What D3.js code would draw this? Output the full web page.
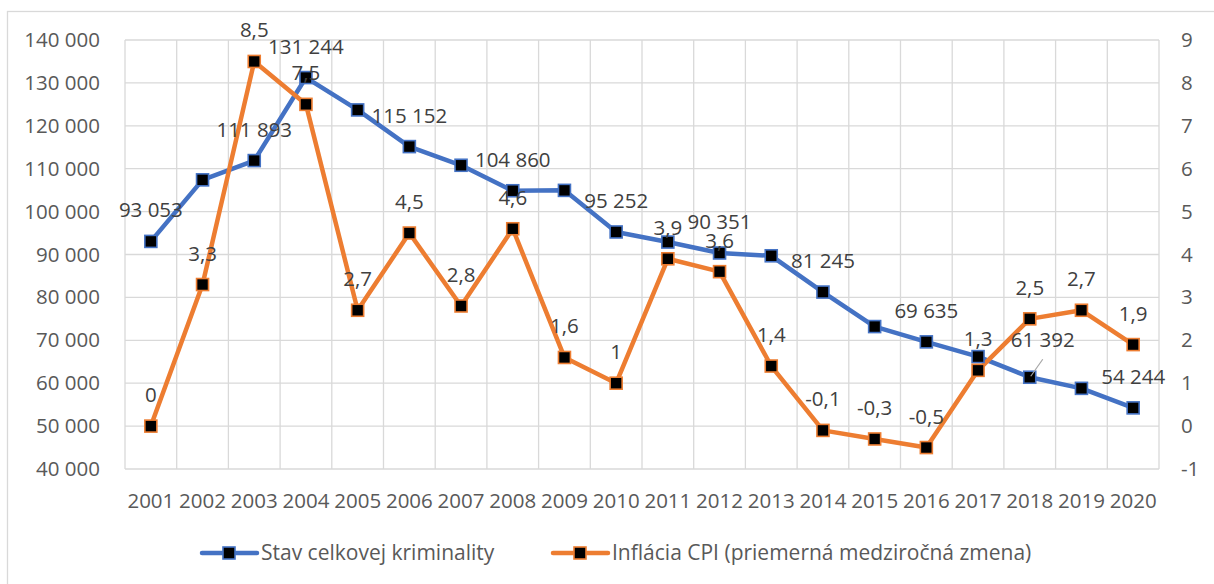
<!DOCTYPE html>
<html>
<head>
<meta charset="utf-8">
<script src="https://cdn.jsdelivr.net/npm/d3@7"></script>
<style>
  body { margin: 0; background: #fff; }
  svg text { font-family: "Open Sans", "Liberation Sans", sans-serif; }
</style>
</head>
<body>
<svg id="chart" width="1214" height="584"></svg>
<script>
const years = ["2001","2002","2003","2004","2005","2006","2007","2008","2009","2010",
               "2011","2012","2013","2014","2015","2016","2017","2018","2019","2020"];
const crime = [93053,107400,111893,131244,123700,115152,110800,104860,104950,95252,
               92900,90351,89700,81245,73200,69635,66200,61392,58800,54244];
const inflation = [0,3.3,8.5,7.5,2.7,4.5,2.8,4.6,1.6,1,3.9,3.6,1.4,-0.1,-0.3,-0.5,1.3,2.5,2.7,1.9];
// years that carry a data label on the crime line
const crimeLabelYears = ["2001","2003","2004","2006","2008","2010","2012","2014","2016","2018","2020"];
const leftTicks = [40000,50000,60000,70000,80000,90000,100000,110000,120000,130000,140000];
const rightTicks = [-1,0,1,2,3,4,5,6,7,8,9];
const seriesNames = ["Stav celkovej kriminality", "Inflácia CPI (priemerná medziročná zmena)"];

const blue = "#4472C4", orange = "#ED7D31";
const svg = d3.select("#chart");

const plotL = 125, plotR = 1159, plotT = 40, plotB = 469;

const x = d3.scaleBand().domain(years).range([plotL, plotR]);
const yL = d3.scaleLinear().domain([40000, 140000]).range([plotB, plotT]);
const yR = d3.scaleLinear().domain([-1, 9]).range([plotB, plotT]);

const fmtNum = d => d3.format(",")(d).replace(/,/g, " ");
const fmtDec = d => String(d).replace(".", ",");

// outer border
svg.append("rect")
  .attr("x", 7.5).attr("y", 11.5)
  .attr("width", 1220).attr("height", 600)
  .attr("fill", "none").attr("stroke", "#d9d9d9").attr("stroke-width", 1.3);

// grid
const grid = svg.append("g").attr("stroke", "#d9d9d9").attr("stroke-width", 1.3);
grid.selectAll("line.h").data(leftTicks).enter().append("line")
  .attr("x1", plotL).attr("x2", plotR)
  .attr("y1", d => yL(d)).attr("y2", d => yL(d));
grid.selectAll("line.v").data(years.concat(["end"])).enter().append("line")
  .attr("x1", (d, i) => plotL + i * x.bandwidth())
  .attr("x2", (d, i) => plotL + i * x.bandwidth())
  .attr("y1", plotT).attr("y2", plotB);

// axes
const axisL = svg.append("g").attr("transform", `translate(${plotL},0)`)
  .call(d3.axisLeft(yL).tickValues(leftTicks).tickFormat(fmtNum).tickSize(0).tickPadding(25));
const axisR = svg.append("g").attr("transform", `translate(${plotR},0)`)
  .call(d3.axisRight(yR).tickValues(rightTicks).tickFormat(d => d).tickSize(0).tickPadding(22));
const axisB = svg.append("g").attr("transform", `translate(0,${plotB})`)
  .call(d3.axisBottom(x).tickSize(0).tickPadding(24));
[axisL, axisR, axisB].forEach(a => {
  a.select(".domain").remove();
  a.selectAll("text").attr("fill", "#595959").attr("font-size", 20.5)
    .attr("font-family", "'Open Sans', sans-serif");
});

// lines
function drawSeries(values, y, color) {
  const line = d3.line()
    .x((d, i) => x(years[i]) + x.bandwidth() / 2)
    .y(d => y(d));
  svg.append("path").datum(values)
    .attr("d", line).attr("fill", "none")
    .attr("stroke", color).attr("stroke-width", 4.5)
    .attr("stroke-linejoin", "round").attr("stroke-linecap", "round");
}
drawSeries(crime, yL, blue);
drawSeries(inflation, yR, orange);

function drawMarkers(values, y, color) {
  svg.append("g").selectAll("rect").data(values).enter().append("rect")
    .attr("x", (d, i) => x(years[i]) + x.bandwidth() / 2 - 6)
    .attr("y", d => y(d) - 6)
    .attr("width", 12).attr("height", 12)
    .attr("fill", "#000").attr("stroke", color).attr("stroke-width", 1.6);
}
drawMarkers(crime, yL, blue);
drawMarkers(inflation, yR, orange);

// data labels
const labels = svg.append("g").attr("fill", "#404040").attr("font-size", 20.5)
  .attr("text-anchor", "middle");

crime.forEach((v, i) => {
  if (!crimeLabelYears.includes(years[i])) return;
  const cx = x(years[i]) + x.bandwidth() / 2, cy = yL(v);
  let dx = 0, dy = -24;
  if (years[i] === "2018") {
    dx = 13; dy = -30;
    svg.append("line")
      .attr("x1", cx + 1).attr("y1", cy - 1)
      .attr("x2", cx + 13).attr("y2", cy - 18)
      .attr("stroke", "#a6a6a6").attr("stroke-width", 1.2);
  }
  labels.append("text").attr("x", cx + dx).attr("y", cy + dy).text(fmtNum(v));
});

inflation.forEach((v, i) => {
  const cx = x(years[i]) + x.bandwidth() / 2, cy = yR(v);
  labels.append("text").attr("x", cx).attr("y", cy - 24).text(fmtDec(v));
});

// legend
const legend = svg.append("g");
[[202, blue, seriesNames[0]], [553, orange, seriesNames[1]]].forEach(([lx, color, name]) => {
  const ly = 553;
  legend.append("line").attr("x1", lx).attr("x2", lx + 55).attr("y1", ly).attr("y2", ly)
    .attr("stroke", color).attr("stroke-width", 4.5).attr("stroke-linecap", "round");
  legend.append("rect").attr("x", lx + 21).attr("y", ly - 6).attr("width", 12).attr("height", 12)
    .attr("fill", "#000").attr("stroke", color).attr("stroke-width", 1.6);
  legend.append("text").attr("x", lx + 59).attr("y", ly + 7)
    .attr("fill", "#595959").attr("font-size", 21).text(name);
});
</script>
</body>
</html>
